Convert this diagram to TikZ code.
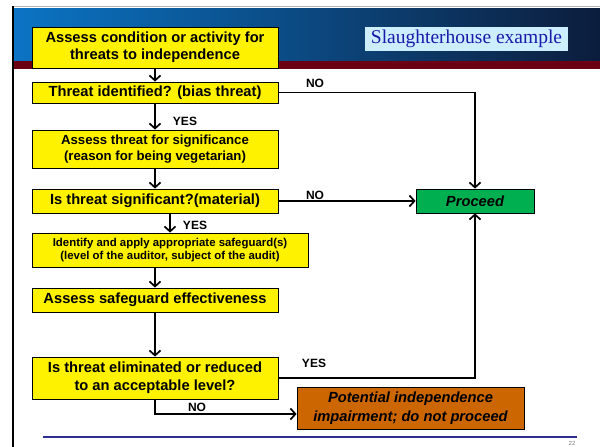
\documentclass[tikz,border=0pt]{standalone}
\usepackage{fontspec}
\setmainfont{Liberation Sans}
\newfontfamily\titlefont{Liberation Serif}
\usetikzlibrary{arrows.meta,positioning}
\definecolor{bandL}{HTML}{0B74C4}
\definecolor{bandM}{HTML}{0B4C8C}
\definecolor{bandR}{HTML}{0C1D3C}
\definecolor{bandRed}{HTML}{6B0015}
\definecolor{titleFill}{HTML}{CCEEFF}
\definecolor{titleInk}{HTML}{1A1AA8}
\definecolor{goGreen}{HTML}{00B050}
\definecolor{stopOrange}{HTML}{CC6600}
\definecolor{footInk}{HTML}{2E2E8C}

\begin{document}
\begin{tikzpicture}[
  x=1pt, y=-1pt,
  stepbox/.style={draw=black, line width=0.8pt, fill=yellow, align=center,
    inner sep=0pt, minimum width=246pt, font=\fontsize{14.7}{17}\selectfont\bfseries},
  endbox/.style={draw=black, line width=0.8pt, align=center, inner sep=0pt,
    font=\fontsize{14.7}{19}\selectfont\bfseries\itshape},
  lbl/.style={font=\fontsize{12}{14}\selectfont\bfseries, inner sep=0pt},
  arr/.style={-{Straight Barb[length=5pt,width=11pt]}, line width=1.7pt}
]
\useasboundingbox (0,0) rectangle (600,447);

% slide frame
\shade[left color=bandL, middle color=bandM, right color=bandR] (14,8) rectangle (600,61);
\fill[bandRed] (14,61) rectangle (600,69);
\draw[gray!60, line width=1pt] (12,6) -- (600,6);
\draw[black, line width=2pt] (13,6) -- (13,447);
\draw[footInk, line width=1.3pt] (43,437) -- (577,437);
\node[font=\fontsize{6}{6}\selectfont, text=gray, inner sep=0pt] (pgno) at (572,443) {22};

\node[fill=titleFill, minimum width=203pt, minimum height=24pt, inner sep=0pt,
  text=titleInk, font=\titlefont\fontsize{19.5}{20}\selectfont] (title) at (466.5,39)
  {Slaughterhouse example};

% flow chart
\node[stepbox, minimum height=41pt] (assess) at (155,47.5)
  {Assess condition or activity for\\threats to independence};
\node[stepbox, minimum height=21pt] (ident) at (155,92.5)
  {Threat identified? (bias threat)};
\node[stepbox, minimum height=38pt, font=\fontsize{13.2}{16.7}\selectfont\bfseries] (signif) at (155,149)
  {Assess threat for significance\\(reason for being vegetarian)};
\node[stepbox, minimum height=24pt] (material) at (155,201)
  {Is threat significant?(material)};
\node[stepbox, minimum width=276pt, minimum height=34pt,
  font=\fontsize{11.4}{13.3}\selectfont\bfseries] (guard) at (170,250)
  {Identify and apply appropriate safeguard(s)\\(level of the auditor, subject of the audit)};
\node[stepbox, minimum height=24pt] (effect) at (155,300)
  {Assess safeguard effectiveness};
\node[stepbox, minimum height=42pt, font=\fontsize{14.7}{17.7}\selectfont\bfseries] (reduced) at (155,378)
  {Is threat eliminated or reduced\\to an acceptable level?};

\node[endbox, fill=goGreen, minimum width=118pt, minimum height=24pt] (proceed) at (475,201)
  {Proceed};
\node[endbox, fill=stopOrange, minimum width=227pt, minimum height=42pt] (impair) at (410.5,408)
  {Potential independence\\impairment; do not proceed};

\foreach \s/\t in {assess/ident,ident/signif,signif/material}
  \draw[arr] (\s) -- (\t);
\draw[arr] (material.south -| guard) -- (guard.north);
\draw[arr] (guard.south -| effect) -- (effect.north);
\draw[arr] (effect) -- (reduced);

\draw[arr] (ident.east) -| (proceed.north);
\draw[arr] (material.east) -- (proceed.west);
\draw[arr] (reduced.east) -| (proceed.south);
\draw[arr] (reduced.south) |- ([yshift=-6pt]impair.west);

\node[lbl] (yes1) at (185,121) {YES};
\node[lbl] (yes2) at (195,225) {YES};
\node[lbl] (yes3) at (314,363) {YES};
\node[lbl] (no1) at (315,83) {NO};
\node[lbl] (no2) at (315,195) {NO};
\node[lbl] (no3) at (197,407) {NO};
\end{tikzpicture}
\end{document}
